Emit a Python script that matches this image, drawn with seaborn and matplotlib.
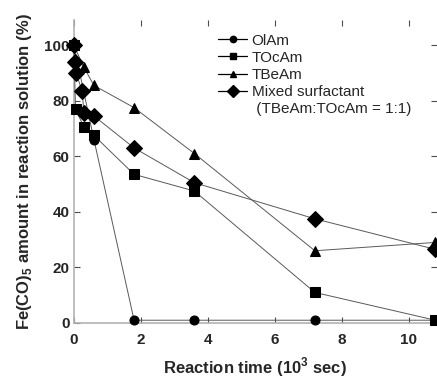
import numpy as np
import pandas as pd
import matplotlib.pyplot as plt
import seaborn as sns
from matplotlib.lines import Line2D

sns.set_style("ticks")
plt.rcParams['font.family'] = ['Liberation Sans', 'DejaVu Sans']
plt.rcParams['mathtext.fontset'] = 'custom'
plt.rcParams['mathtext.bf'] = 'Liberation Sans:bold'

# data (time in 10^3 sec, amount in %)
olam_t = [0, 0.6, 1.8, 3.6, 7.2, 10.8]
olam_y = [100, 66, 1, 1, 1, 1]

tocam_t = [0, 0.05, 0.3, 0.6, 1.8, 3.6, 7.2, 10.8]
tocam_y = [100, 77, 70.5, 67.5, 53.5, 47.5, 11, 1]

tbeam_t = [0, 0.3, 0.6, 1.8, 3.6, 7.2, 10.8]
tbeam_y = [100, 92, 85.5, 77.5, 61, 26, 29]

mixed_t = [0, 0.03, 0.06, 0.25, 0.3, 0.6, 1.8, 3.6, 7.2, 10.8]
mixed_y = [100, 94, 90, 83.5, 75.5, 74.5, 63, 50.5, 37.5, 26.5]

series = [
    ("OlAm", olam_t, olam_y, "o", 6.5),
    ("TOcAm", tocam_t, tocam_y, "s", 6.5),
    ("TBeAm", tbeam_t, tbeam_y, "^", 7),
    ("Mixed surfactant", mixed_t, mixed_y, "D", 8.5),
]

fig = plt.figure(figsize=(4.37, 3.80), dpi=100)
ax = fig.add_axes([0.169, 0.15, 0.831, 0.797])

handles = []
for name, t, y, mk, ms in series:
    df = pd.DataFrame({"t": t, "y": y})
    sns.lineplot(data=df, x="t", y="y", ax=ax, estimator=None, sort=False,
                 color="0.35", linewidth=0.7, marker=mk, markersize=ms,
                 markerfacecolor="black", markeredgecolor="black",
                 clip_on=False, zorder=3)
    handles.append(Line2D([], [], color="black", linewidth=0.9, marker=mk,
                          markersize=ms * 0.7, label=name))
handles.append(Line2D([], [], linestyle="none", label=" (TBeAm:TOcAm = 1:1)"))

ax.set_xlim(0, 10.85)
ax.set_ylim(0, 109)
ax.set_xticks([0, 2, 4, 6, 8, 10])
ax.set_yticks([0, 20, 40, 60, 80, 100])
ax.tick_params(direction="in", length=4, width=0.8, color="0.3",
               top=True, right=True, labelsize=11)
ax.tick_params(axis="x", pad=7)
ax.tick_params(axis="y", pad=3)
for lab in ax.get_xticklabels() + ax.get_yticklabels():
    lab.set_fontweight("bold")

for side in ["top", "right"]:
    ax.spines[side].set_visible(False)
for side in ["left", "bottom"]:
    ax.spines[side].set_color("0.7")
    ax.spines[side].set_linewidth(1.2)

ax.set_xlabel(r"Reaction time (10$^\mathbf{3}$ sec)", fontsize=12,
              fontweight="bold", labelpad=6)
ax.set_ylabel(r"Fe(CO)$_\mathbf{5}$ amount in reaction solution (%)",
              fontsize=12, fontweight="bold", labelpad=7)

ax.legend(handles=handles, loc="upper left", bbox_to_anchor=(0.397, 0.955),
          frameon=False, fontsize=11, handlelength=1.9, handletextpad=0.3,
          labelspacing=0.2, borderaxespad=0, borderpad=0)

fig.savefig("out.png", dpi=100)
